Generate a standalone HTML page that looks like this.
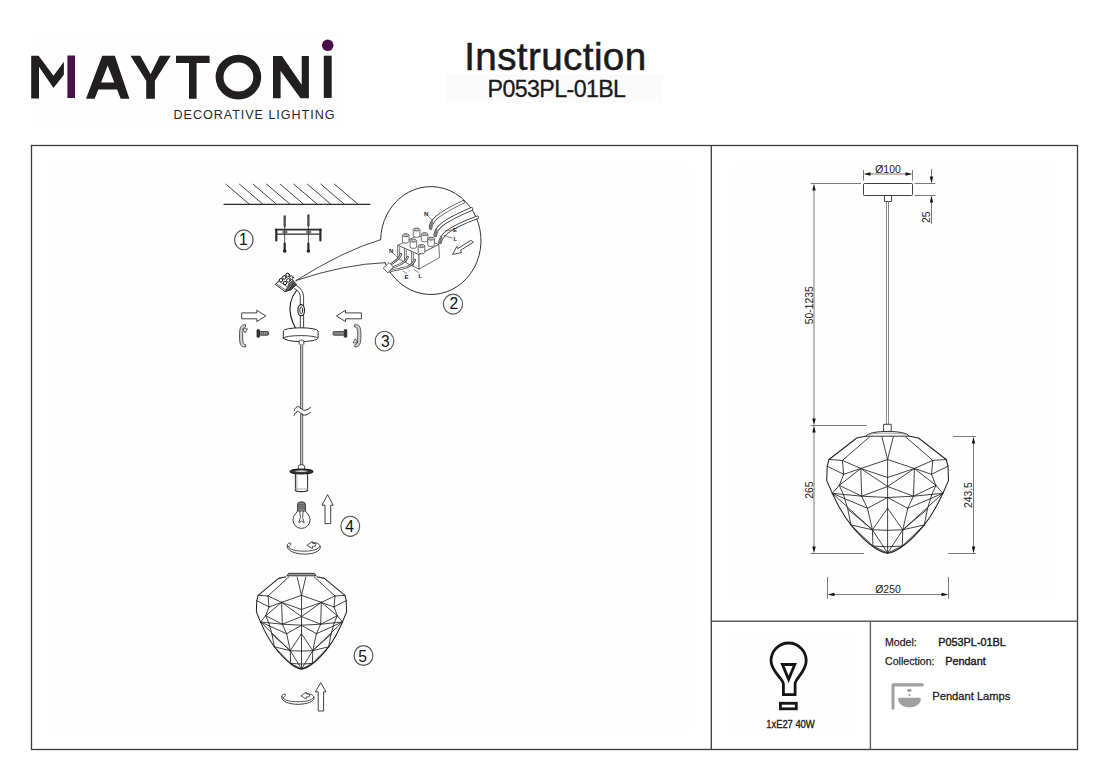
<!DOCTYPE html>
<html><head><meta charset="utf-8">
<style>
html,body{margin:0;padding:0;background:#fff;}
body{width:1105px;height:781px;position:relative;overflow:hidden;font-family:"Liberation Sans",sans-serif;color:#1e1e1e;}
.t{position:absolute;white-space:nowrap;line-height:1;}
svg{position:absolute;left:0;top:0;}
svg text{font-family:"Liberation Sans",sans-serif;}
</style></head>
<body>
<svg width="1105" height="781" viewBox="0 0 1105 781">
<!-- faint scan boxes -->
<rect x="32" y="32" width="308" height="93" fill="#fefefe"/>
<rect x="446" y="74" width="217" height="29" fill="#fbfbfb"/>
<rect x="50" y="164" width="642" height="568" fill="#fefefe"/>
<rect x="730" y="165" width="328" height="435" fill="#fefefe"/>
<rect x="729" y="635" width="124" height="102" fill="#fefefe"/>
<!-- LOGO -->
<g fill="#221f20">
<path d="M31.2,55.7 L38.6,55.7 L53.5,75.7 L63.9,61.7 L63.9,74.8 L53.5,87.9 L39,66.7 L39,98.4 L31.2,98.4 Z"/>
<path fill-rule="evenodd" d="M86,98.7 L102.3,55.8 L114.8,55.8 L129.4,98.7 L120.7,98.7 L117.1,89.5 L98.3,89.5 L94.7,98.7 Z M107.7,65.6 L101.1,82.5 L114.3,82.5 Z"/>
<path d="M130.5,55.8 L140.3,55.8 L150.6,74.3 L159.8,55.8 L170.7,55.8 L154.9,80.8 L154.9,98.7 L146.2,98.7 L146.2,80.8 Z"/>
<path d="M176,55.8 H209.6 V62.9 H196.6 V98.7 H189 V62.9 H176 Z"/>
<ellipse cx="238.4" cy="77.1" rx="18.85" ry="18.45" fill="none" stroke="#221f20" stroke-width="7.9"/>
<path d="M273,56 L282,56 L301.7,84.8 L301.7,56 L308.9,56 L308.9,98.3 L300.5,98.3 L280.6,71 L280.6,98.3 L273,98.3 Z"/>
<rect x="323.8" y="55.7" width="7.9" height="42.2"/>
</g>
<rect x="67.4" y="55.5" width="7.6" height="42.5" fill="#481248"/>
<circle cx="327.7" cy="45.3" r="5.8" fill="#481248"/>
<!-- FRAME -->
<g stroke="#3a3a3a" stroke-width="1.3" fill="none">
<rect x="31.5" y="145.5" width="1046" height="604"/>
<line x1="711.3" y1="145.5" x2="711.3" y2="749.5"/>
<line x1="711.3" y1="621.2" x2="1077.5" y2="621.2" stroke="#5e5e5e" stroke-width="1.4"/>
<line x1="870.4" y1="621.2" x2="870.4" y2="749.5" stroke="#5e5e5e" stroke-width="1.4"/>
</g>
<!-- LEFT PANEL -->
<g fill="none" stroke="#2b2b2b" stroke-width="1" stroke-linecap="round" stroke-linejoin="round">
<!-- ceiling -->
<path d="M224,204.3 H370" stroke-width="1.3"/>
<path stroke-width="0.9" d="M225.9,184.2 L249.1,204 M239.5,184.2 L262.7,204 M253.1,184.2 L276.2,204 M266.6,184.2 L289.8,204 M280.2,184.2 L303.4,204 M293.8,184.2 L317.0,204 M307.4,184.2 L330.6,204 M320.9,184.2 L344.1,204 M334.5,184.2 L357.7,204"/>
<!-- step circles -->
<g stroke="#555" stroke-width="1.15">
<ellipse cx="243.8" cy="239.8" rx="9.3" ry="9.9"/>
<ellipse cx="453" cy="304.1" rx="9.6" ry="10"/>
<ellipse cx="384.5" cy="341.1" rx="9.3" ry="9.9"/>
<ellipse cx="350.3" cy="526.3" rx="9.4" ry="10.1"/>
<ellipse cx="363.5" cy="655.5" rx="9.4" ry="9.9"/>
</g>
<!-- bracket step 1 -->
<path d="M275.4,229.6 H321.2" stroke-width="1.7"/>
<path d="M277.6,234.2 H319.3" stroke-width="1.2"/>
<path d="M276.3,229.6 V240.5" stroke-width="2.2"/>
<path d="M320.4,229.6 V240.5" stroke-width="2.2"/>
<path d="M284.7,221 V251 M308.4,221 V251" stroke-width="0.8"/>
<path d="M284.7,216.5 V226 M308.4,215.5 V225.5" stroke="#444" stroke-width="2.3"/>
<path d="M284.7,243.5 V250.5 M308.4,243.5 V250.5" stroke-width="2.2"/>
<ellipse cx="284.7" cy="232" rx="2.2" ry="1" stroke-width="0.8"/>
<ellipse cx="308.4" cy="232" rx="2.2" ry="1" stroke-width="0.8"/>
</g>
<circle cx="284.7" cy="251" r="1.8" fill="#222"/>
<circle cx="308.4" cy="251" r="1.8" fill="#222"/>
<g stroke="#888" stroke-width="0.6"><path d="M283.5,220 H286 M283.5,222 H286 M283.5,224 H286 M307.2,219 H309.7 M307.2,221 H309.7 M307.2,223 H309.7"/></g>
<!-- CALLOUT step 2 -->
<g fill="none" stroke="#333" stroke-width="1" stroke-linecap="round" stroke-linejoin="round">
<path d="M380.6,239.7 A50.2,54 0 1 1 385,262.7"/>
<path d="M380.6,239.7 Q345,250 296,280.5" stroke-width="0.9"/>
<path d="M385,262.7 Q345,264 296,280.5" stroke-width="0.9"/>
</g>
<g stroke="#333" stroke-width="0.7" stroke-linejoin="round" fill="#fff">
<!-- block -->
<path d="M397.7,245.3 L417.6,235.4 L438.8,244.6 L418.8,254.6 Z"/>
<path d="M418.8,254.6 L438.8,244.6 L439.5,257.6 L418.8,269.2 Z"/>
<path d="M397.7,245.3 L418.8,254.6 L418.8,269.2 L397.7,258.4 Z"/>
<path d="M404.5,248.3 V261.8 M411.6,251.4 V265.5" fill="none"/>
<path d="M399.5,247 V258 M406.3,250 V262 M413.4,253 V266" fill="none" stroke="#888" stroke-width="1.2"/>
<!-- posts -->
<g>
<path d="M413.2,229.5 v6.3 a3.3,1.5 0 0 0 6.6,0 v-6.3"/><ellipse cx="416.5" cy="229.5" rx="3.3" ry="1.5"/><ellipse cx="416.5" cy="229.5" rx="1.8" ry="0.8" stroke-width="0.5"/>
<path d="M421.3,234.1 v6.3 a3.3,1.5 0 0 0 6.6,0 v-6.3"/><ellipse cx="424.6" cy="234.1" rx="3.3" ry="1.5"/><ellipse cx="424.6" cy="234.1" rx="1.8" ry="0.8" stroke-width="0.5"/>
<path d="M402.4,235.2 v6.3 a3.3,1.5 0 0 0 6.6,0 v-6.3"/><ellipse cx="405.7" cy="235.2" rx="3.3" ry="1.5"/><ellipse cx="405.7" cy="235.2" rx="1.8" ry="0.8" stroke-width="0.5"/>
<path d="M427.8,238.7 v6.3 a3.3,1.5 0 0 0 6.6,0 v-6.3"/><ellipse cx="431.1" cy="238.7" rx="3.3" ry="1.5"/><ellipse cx="431.1" cy="238.7" rx="1.8" ry="0.8" stroke-width="0.5"/>
<path d="M410.1,240.6 v6.3 a3.3,1.5 0 0 0 6.6,0 v-6.3"/><ellipse cx="413.4" cy="240.6" rx="3.3" ry="1.5"/><ellipse cx="413.4" cy="240.6" rx="1.8" ry="0.8" stroke-width="0.5"/>
<path d="M418.2,246.0 v6.3 a3.3,1.5 0 0 0 6.6,0 v-6.3"/><ellipse cx="421.5" cy="246.0" rx="3.3" ry="1.5"/><ellipse cx="421.5" cy="246.0" rx="1.8" ry="0.8" stroke-width="0.5"/>
</g>
</g>
<g fill="none" stroke-linecap="round">
<!-- lower-left wires -->
<path d="M386,268.5 C392,262 398,262 401,254 M387.5,270 C395,265 403,266 408,257 M389,271.5 C398,268 410,270 415,260" stroke="#333" stroke-width="2.2"/>
<path d="M386,268.5 C392,262 398,262 401,254 M387.5,270 C395,265 403,266 408,257 M389,271.5 C398,268 410,270 415,260" stroke="#fff" stroke-width="0.9"/>
<path d="M383.5,268 L389,262.5 L393.5,267 L388,272.5 Z" fill="#fff" stroke="#333" stroke-width="0.8"/>
<!-- upper-right wires -->
<path d="M430.5,228 C431,221 436,215 463,202 M435.2,235.5 C436,228 441,222 471.5,209 M440,242.5 C441,236 446,229 477.2,217.4" stroke="#333" stroke-width="3.6"/>
<path d="M430.5,228 C431,221 436,215 463,202 M435.2,235.5 C436,228 441,222 471.5,209 M440,242.5 C441,236 446,229 477.2,217.4" stroke="#fff" stroke-width="2"/>
<path d="M430.5,228 L432,222 M435.2,235.5 L436.6,229.5 M440,242.5 L441.5,236" stroke="#777" stroke-width="2"/>
<!-- leaders -->
<path d="M393,253 L397,257 M403,271 L406.5,273.5 M414,269.5 L418.5,272.5 M428,216 L432,220 M445,231 L452,230 M444,235.5 L452,238" stroke="#333" stroke-width="0.6"/>
<!-- arrow -->
<path d="M473,242.5 L460.5,250.3 L461.5,252.5 L452.5,254.5 L456.8,246.5 L457.8,248.6 L470.5,240.5 Z" fill="#fff" stroke="#333" stroke-width="0.9" stroke-linejoin="round"/>
</g>
<g font-size="6" font-weight="bold" fill="#222" font-family="Liberation Sans">
<text x="389" y="253">N</text><text x="404.5" y="278.5">E</text><text x="418.5" y="278">L</text>
<text x="424" y="216">N</text><text x="453" y="232">E</text><text x="453.5" y="240.5">L</text>
</g>
<!-- STEP 3 -->
<g fill="none" stroke="#2b2b2b" stroke-width="1" stroke-linecap="round" stroke-linejoin="round">
<!-- small terminal block -->
<path d="M275.5,284.1 L281,278.5 L287.4,273.8 L296.6,284.5 L290.5,290 L285.4,291.4 Z" fill="#fff" stroke-width="0.9"/>
<path d="M287.6,287.2 L285.4,291.4 L290.5,290 L296,285 L292.5,280.5 L289,283.5 Z" fill="#666" stroke="#222" stroke-width="0.7"/>
<path d="M289.5,289.5 L293.5,283 M291.8,288.5 L295,284.5" stroke="#222" stroke-width="0.9"/>
<path d="M276.5,284 L285.6,290 L287.6,287 L279.5,281.5 Z" fill="#fff" stroke-width="0.7"/>
<g fill="#fff" stroke="#222" stroke-width="1">
<circle cx="287.6" cy="275" r="1.8"/><circle cx="291.4" cy="277.6" r="1.8"/><circle cx="284.2" cy="277.5" r="1.8"/>
<circle cx="288.3" cy="280.4" r="1.8"/><circle cx="281" cy="280.2" r="1.7"/><circle cx="285" cy="283" r="1.7"/>
</g>
<!-- cord going up -->
<path d="M300.3,328 V297.5 Q300.3,291.5 294.5,288.5 M303.6,328 V297.5 Q303.6,289.5 296.5,285.5" stroke-width="0.9"/>
<ellipse cx="301.2" cy="310.2" rx="3.3" ry="5.6" fill="#fff" stroke="#1a1a1a" stroke-width="1.1"/>
<ellipse cx="301.2" cy="310.2" rx="1.4" ry="3.5" stroke="#1a1a1a" stroke-width="0.9"/>
<!-- black wire -->
<path d="M296.5,290.5 C289,300 289.5,311 291,317 C292.5,323 294.5,326 295.8,328.5" stroke="#111" stroke-width="1.1"/>
<!-- canopy -->
<path d="M283.3,338 V331 A17.4,3.2 0 0 1 318.1,331 V338 A17.4,3.6 0 0 1 283.3,338 Z" fill="#fff"/>
<path d="M283.3,338 A17.4,2.4 0 0 1 318.1,338" stroke-width="0.9"/>
<path d="M299.2,344.2 V341.3 Q299.2,340.1 300.4,340.1 H302.6 Q303.8,340.1 303.8,341.3 V344.2" fill="#fff" stroke-width="0.9"/>
<!-- cord down -->
<path d="M301.6,344.2 V409 M301.6,413.5 V465" stroke="#6a6a6a" stroke-width="3.2" stroke-linecap="butt"/>
<path d="M301.6,344.2 V409 M301.6,413.5 V465" stroke="#c4c4c4" stroke-width="1.2" stroke-linecap="butt"/>
<path d="M294.2,410.6 C295.5,406.5 298,405.5 300.5,408 C302.5,410.5 305,411.8 310.4,407.5" stroke-width="1"/>
<path d="M294.2,415.4 C295.5,411.5 298,410.5 300.5,413 C302.5,415.5 305,416.6 310.5,412.3" stroke-width="1"/>
<!-- hollow arrows -->
<path d="M242.1,312.9 H256.8 V310.3 L265.8,315.9 L256.8,321.6 V318.8 H242.1 Z" fill="#fff" stroke-width="0.9"/>
<path d="M361,312.9 H345.5 V310.3 L336.4,315.9 L345.5,321.6 V318.8 H361 Z" fill="#fff" stroke-width="0.9"/>
<!-- rotation arcs -->
<g id="rotC">
<path d="M245.2,324.6 C240.5,324.6 239.5,328 239.5,336 C239.5,344 240.5,347.6 245.9,346.8 L245.7,344.6 C243.2,344.8 242.7,342 242.7,336 C242.7,330 243,327.2 245,327.2 Z" fill="#cfcfcf" stroke="#333" stroke-width="0.8"/>
<path d="M243.2,328.8 L247.4,328.8 L245.3,332.4 Z" fill="#fff" stroke="#333" stroke-width="0.8"/>
</g>
<use href="#rotC" transform="rotate(180 300.2 335.8)"/>
</g>
<!-- screws -->
<g stroke="#222" stroke-width="0.8">
<rect x="257" y="329.6" width="2.6" height="7.6" rx="0.8" fill="#333"/>
<rect x="259.6" y="331.6" width="9" height="3.6" rx="1" fill="#9a9a9a"/>
<path d="M261.5,331.6 v3.6 M263.5,331.6 v3.6 M265.5,331.6 v3.6 M267.5,331.6 v3.6" stroke="#555" stroke-width="0.6"/>
<rect x="344.2" y="329.6" width="2.6" height="7.6" rx="0.8" fill="#333"/>
<rect x="333" y="331.6" width="11.2" height="3.6" rx="1" fill="#9a9a9a"/>
<path d="M335,331.6 v3.6 M337,331.6 v3.6 M339,331.6 v3.6 M341,331.6 v3.6" stroke="#555" stroke-width="0.6"/>
</g>
<!-- STEP 4 -->
<g fill="none" stroke="#2b2b2b" stroke-width="1" stroke-linecap="round" stroke-linejoin="round">
<!-- lampholder -->
<path d="M298.4,469 V466.3 Q298.4,464.7 301.5,464.7 Q304.6,464.7 304.6,466.3 V469" fill="#fff" stroke-width="0.9"/>
<path d="M295.4,473.5 V490.5 M307.6,473.5 V490.5" stroke-width="1"/>
<path d="M296.8,474.5 V489.5" stroke="#999" stroke-width="0.8"/>
<ellipse cx="301.5" cy="471.6" rx="11.4" ry="2.4" fill="#3a3a3a" stroke="#1a1a1a" stroke-width="1.2"/>
<ellipse cx="301.5" cy="471.2" rx="7.2" ry="1.3" fill="#d0d0d0" stroke="#222" stroke-width="0.8"/>
<path d="M295.4,490 A6.1,1.6 0 0 0 307.6,490" stroke-width="1.3"/>
<path d="M295.6,489 H307.4" stroke="#aaa" stroke-width="1.2"/>
<!-- bulb -->
<path d="M297.8,510.3 C297.8,512.6 292.9,514.6 292.9,519.8 A8.6,8.6 0 0 0 310.1,519.8 C310.1,514.6 305.2,512.6 305.2,510.3" stroke-width="0.9"/>
<path d="M297.6,510.6 V504.5 Q297.6,501.8 301.5,501.8 Q305.4,501.8 305.4,504.5 V510.6 Z" fill="#8d8d8d" stroke-width="0.9"/>
<path d="M297.8,504.3 H305.2 M297.8,506.3 H305.2 M297.8,508.3 H305.2" stroke="#444" stroke-width="0.7"/>
<path d="M299.8,511 L300.4,517.5 L298.8,522.8 L301.5,521 L304.2,522.8 L302.6,517.5 L303.2,511" stroke-width="0.8"/>
<!-- up arrow -->
<path d="M327.8,495 L333.2,505.2 L330.7,505.2 L330.7,523.6 L325,523.6 L325,505.2 L322.4,505.2 Z" fill="#fff" stroke-width="0.9"/>
<!-- rotation ring -->
<path d="M287.2,545.5 C286,550 294,554 304,554.1 C313,554.2 320.5,551.5 320.3,546.8 C320.1,543.8 316,542.6 312.6,542.4" stroke-width="0.9"/>
<path d="M288.4,546.8 C289.5,549.5 296,551.2 304,551.2 C312,551.2 318.5,549.5 319.8,546.2" stroke-width="0.8"/>
<path d="M287.2,545.5 C287.2,543.5 289,542.6 290.8,543.2 C291.3,544.6 290,546 288.4,546.8" stroke-width="0.8"/>
<path d="M307.2,545 L312.3,541.5 L312.4,543.2 L316,543.8 L315.4,546.2 L312.6,546.3 L312.4,548.2 Z" fill="#fff" stroke-width="0.8"/>
</g>
<!-- STEP 5 -->
<g fill="none" stroke="#2b2b2b" stroke-width="1" stroke-linecap="round" stroke-linejoin="round">
<path d="M281.8,696.5 C280.2,701 289,704.4 298,704.3 C307,704.2 314.5,701.5 314.1,697.7 C313.9,695 310,693.8 306.2,693.6" stroke-width="0.9"/>
<path d="M283,698 C284.5,700.5 290.5,701.7 298,701.7 C305.5,701.7 312,700.5 313.6,697.5" stroke-width="0.8"/>
<path d="M281.8,696.5 C281.8,694.5 283.5,693.7 285.3,694.3 C285.8,695.7 284.6,697.1 283,698" stroke-width="0.8"/>
<path d="M301.3,695.6 L306.2,692.2 L306.3,693.8 L309.8,694.4 L309.2,696.8 L306.4,696.9 L306.2,698.6 Z" fill="#fff" stroke-width="0.8"/>
<path d="M320.9,683 L326,691.8 L323.6,691.8 L323.6,711 L318.2,711 L318.2,691.8 L315.8,691.8 Z" fill="#fff" stroke-width="0.9"/>
</g>
<g font-size="15.6" fill="#111" text-anchor="middle">
<text transform="translate(243.4 245.1) scale(1 1.07)">1</text>
<text transform="translate(453.9 309.3) scale(1 1.07)">2</text>
<text transform="translate(385.3 346.9) scale(1 1.07)">3</text>
<text transform="translate(349.5 531.9) scale(1 1.07)">4</text>
<text transform="translate(362.6 661.8) scale(1 1.07)">5</text>
</g>
<!-- SHADE DEF -->
<defs>
<g id="shade" fill="none" stroke="#222" stroke-linejoin="round" stroke-linecap="round">
<path d="M870.4,436.2L842.4,460.4 M904.8,436.2L932.8,460.4 M829.0,459.5L842.4,460.4 M946.2,459.5L932.8,460.4 M842.4,460.4L843.7,474.3 M932.8,460.4L931.5,474.3 M827.2,466.2L843.7,474.3 M948.0,466.2L931.5,474.3 M842.4,460.4L860.8,468.5 M932.8,460.4L914.4,468.5 M860.8,468.5L887.6,459.5 M914.4,468.5L887.6,459.5 M860.8,468.5L843.7,474.3 M914.4,468.5L931.5,474.3 M860.8,468.5L861.7,496.2 M914.4,468.5L913.5,496.2 M860.8,468.5L887.6,477.5 M914.4,468.5L887.6,477.5 M860.8,468.5L887.6,486.5 M914.4,468.5L887.6,486.5 M860.8,468.5L839.3,485.4 M914.4,468.5L935.9,485.4 M843.7,474.3L839.3,485.4 M931.5,474.3L935.9,485.4 M839.3,485.4L832.3,493.3 M935.9,485.4L942.9,493.3 M832.3,493.3L861.7,496.2 M942.9,493.3L913.5,496.2 M839.3,485.4L861.7,496.2 M935.9,485.4L913.5,496.2 M861.7,496.2L887.6,486.5 M913.5,496.2L887.6,486.5 M861.7,496.2L887.6,497.5 M913.5,496.2L887.6,497.5 M861.7,496.2L867.5,508.3 M913.5,496.2L907.7,508.3 M832.3,493.3L867.5,508.3 M942.9,493.3L907.7,508.3 M867.5,508.3L887.6,497.5 M907.7,508.3L887.6,497.5 M867.5,508.3L872.4,529.8 M907.7,508.3L902.8,529.8 M887.6,508.3L872.4,529.8 M887.6,508.3L902.8,529.8 M839.3,485.4L843.7,495.3 M935.9,485.4L931.5,495.3 M843.7,495.3L847.8,509.2 M931.5,495.3L927.4,509.2 M847.8,509.2L850.9,524.9 M927.4,509.2L924.3,524.9 M832.3,493.3L872.4,529.8 M942.9,493.3L902.8,529.8 M847.8,509.2L872.4,529.8 M927.4,509.2L902.8,529.8 M850.9,524.9L872.4,529.8 M924.3,524.9L902.8,529.8 M872.4,529.8L887.6,530.3 M902.8,529.8L887.6,530.3 M872.4,529.8L872.9,546.0 M902.8,529.8L902.3,546.0 M872.4,529.8L887.6,553.0 M902.8,529.8L887.6,553.0 M850.9,524.9L872.9,546.0 M924.3,524.9L902.3,546.0 M872.9,546.0L887.6,546.8 M902.3,546.0L887.6,546.8 M872.9,546.0L887.6,553.0 M902.3,546.0L887.6,553.0 M887.6,459.5L881.8,436.5 M887.6,459.5L893.4,436.5 M887.6,459.5L887.6,553.0" stroke-width="0.85" vector-effect="non-scaling-stroke"/>
<path d="M866.6,436.0 L856.7,438.0 L829.0,459.5 L827.2,466.2 L826.7,480.6 L832.3,493.3 C836,501.5 844,516 850.9,524.9 C857,532.5 866,542 875,548 C879,550.5 884,552.8 887.6,553.3 C891.2,552.8 896.2,550.5 900.2,548 C909.2,542 918.2,532.5 924.3,524.9 C931.2,516 939.2,501.5 942.9,493.3 L948.5,480.6 L948.0,466.2 L946.2,459.5 L918.5,438.0 L908.6,436.0" stroke-width="1.05" vector-effect="non-scaling-stroke"/>
</g>
</defs>
<use href="#shade"/>
<use href="#shade" transform="translate(301.5 595.3) scale(0.7406 0.7876) translate(-887.6 -459.5)"/>
<!-- left shade rim -->
<path d="M286.9,575.8 L288.6,573.3 H314.4 L316.1,575.8 Z" fill="#9a9a9a" stroke="#2b2b2b" stroke-width="0.9" stroke-linejoin="round"/>
<!-- RIGHT PANEL -->
<g fill="none" stroke="#2b2b2b" stroke-width="0.9" stroke-linejoin="round">
<!-- canopy -->
<rect x="863.5" y="183.5" width="49" height="12" rx="1" fill="#fff"/>
<rect x="884.5" y="195.5" width="7" height="6" fill="#fff"/>
<path d="M886.5,201.5 V424 M888.5,201.5 V424" stroke="#8a8a8a" stroke-width="1"/>
<rect x="883.6" y="424.3" width="7.6" height="7.2" fill="#fff"/>
<path d="M866.3,436.2 C867.5,432.8 878,431.4 887.6,431.4 C897,431.4 907.5,432.8 908.9,436.2 Z" fill="#fff" stroke="#333" stroke-width="1"/>
<path d="M869,434.3 C875,433.3 881,433.1 887.6,433.1 C894,433.1 900,433.3 906.2,434.3" stroke="#888" stroke-width="0.8"/>
</g>
<!-- dimensions -->
<g stroke="#7a7a7a" stroke-width="1" fill="none">
<path d="M863.5,170 V180.5 M912.5,170 V180.5 M868,174 H908"/>
<path d="M810.5,183.5 H861 M814,188 V421 M810.5,425.5 H866.7 M814,430 V549 M810.5,553.5 H864.2"/>
<path d="M914.6,183.5 H935.4 M914.6,195.5 H935.4 M931.5,169 V179 M931.5,200 V223.8"/>
<path d="M953,436.5 H976 M948,553.5 H976 M973.5,441 V549"/>
<path d="M827.5,577 V598.8 M948.5,577 V598.8 M832,594.5 H944"/>
</g>
<g fill="#151515">
<path d="M863.5,174 l7,-1.7 v3.4 Z M912.5,174 l-7,-1.7 v3.4 Z"/>
<path d="M814,183.5 l-1.7,7 h3.4 Z M814,425.5 l-1.7,-7 h3.4 Z M814,425.5 l-1.7,7 h3.4 Z M814,553.5 l-1.7,-7 h3.4 Z"/>
<path d="M931.5,183.5 l-1.7,-7 h3.4 Z M931.5,195.5 l-1.7,7 h3.4 Z"/>
<path d="M973.5,436.5 l-1.7,7 h3.4 Z M973.5,553.5 l-1.7,-7 h3.4 Z"/>
<path d="M827.5,594.5 l7,-1.7 v3.4 Z M948.5,594.5 l-7,-1.7 v3.4 Z"/>
</g>
<g font-size="10.4" fill="#1a1a1a" text-anchor="middle">
<text x="888" y="173.2">Ø100</text>
<text x="888" y="592.8">Ø250</text>
<text transform="translate(813.3 305.2) rotate(-90)">50-1235</text>
<text transform="translate(813.3 490.1) rotate(-90)">265</text>
<text transform="translate(930.4 217.3) rotate(-90)">25</text>
<text transform="translate(972.2 495.1) rotate(-90)">243.5</text>
</g>
<!-- bottom icons -->
<g fill="none" stroke="#151515" stroke-width="2.8" stroke-linejoin="miter">
<path d="M783.4,694.6 V684 C783.4,678.5 771,672 771,660.6 A17.6,17.6 0 0 1 806.2,660.6 C806.2,672 795.1,678.5 795.1,684 V694.6 Z"/>
<path d="M782.4,664.5 H794.8 L788.6,679.3 Z"/>
<rect x="780.4" y="703.3" width="15.9" height="5.5"/>
</g>
<g fill="#a0a0a0">
<path d="M891.5,684.8 Q891.5,683.3 893,683.3 H922.3 Q923.8,683.3 923.8,684.9 Q923.8,686.5 922.3,686.5 H894.5 V708.3 Q894.5,709.8 893,709.8 Q891.5,709.8 891.5,708.3 Z"/>
<ellipse cx="909.3" cy="690.4" rx="2.3" ry="1.6"/>
<rect x="908.6" y="693.7" width="1.6" height="2.5"/>
<path d="M899.5,697.8 H919.5 Q920.8,697.8 920.8,699.2 C920.8,703.8 915.7,707.3 909.5,707.3 C903.3,707.3 898.2,703.8 898.2,699.2 Q898.2,697.8 899.5,697.8 Z"/>
</g>
</svg>
<div class="t" style="left:173.5px;top:109.3px;font-size:12.6px;letter-spacing:0.95px;color:#2a2a2a">DECORATIVE LIGHTING</div>
<div class="t" style="left:464.2px;top:37.5px;font-size:38.6px;letter-spacing:0.4px;color:#1a1a1a;-webkit-text-stroke:0.55px #1a1a1a">Instruction</div>
<div class="t" style="left:487.6px;top:78.1px;font-size:23.2px;letter-spacing:-0.6px;color:#1a1a1a;-webkit-text-stroke:0.3px #1a1a1a">P053PL-01BL</div>
<div class="t" style="left:766.3px;top:718.6px;font-size:9.45px;letter-spacing:-0.05px;color:#1a1a1a;-webkit-text-stroke:0.3px #1a1a1a;transform:scaleY(1.07);transform-origin:0 0">1xE27 40W</div>
<div class="t" style="left:885px;top:636.7px;font-size:10.6px;-webkit-text-stroke:0.25px #1e1e1e">Model:</div>
<div class="t" style="left:938.3px;top:636.6px;font-size:10.85px;-webkit-text-stroke:0.4px #1a1a1a;color:#1a1a1a">P053PL-01BL</div>
<div class="t" style="left:885px;top:656.4px;font-size:10.6px;-webkit-text-stroke:0.25px #1e1e1e">Collection:</div>
<div class="t" style="left:945.3px;top:656.3px;font-size:10.85px;-webkit-text-stroke:0.4px #1a1a1a;color:#1a1a1a">Pendant</div>
<div class="t" style="left:932.3px;top:690.8px;font-size:11.15px;-webkit-text-stroke:0.3px #1e1e1e">Pendant Lamps</div>
</body></html>
